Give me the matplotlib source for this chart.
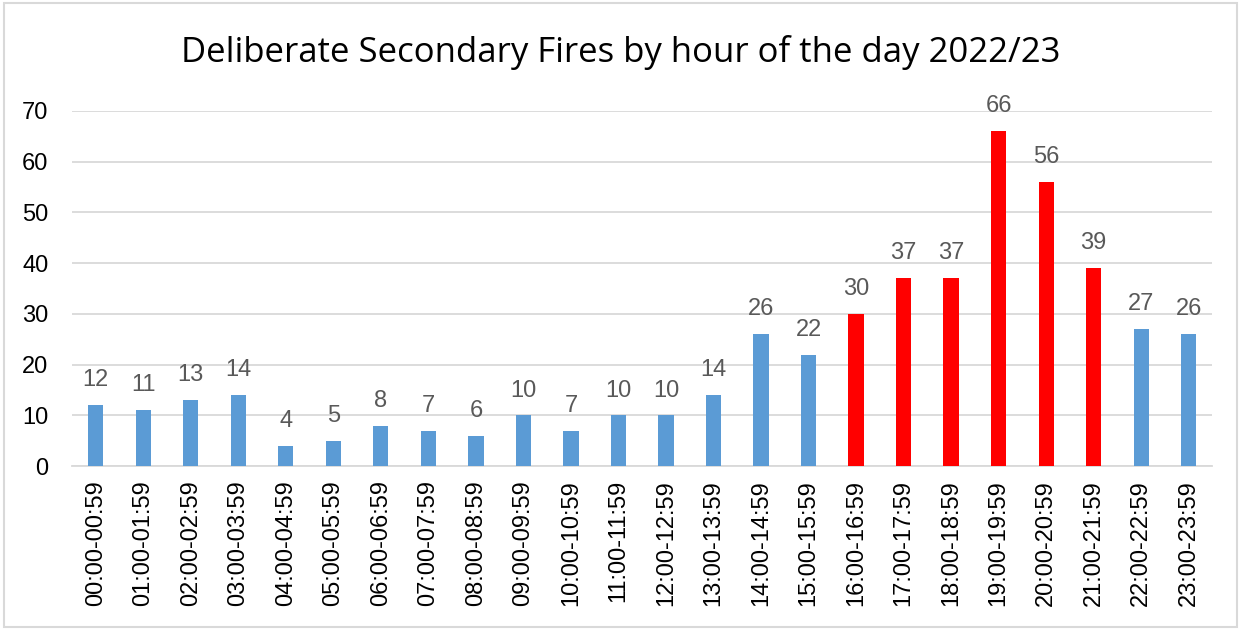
import matplotlib.pyplot as plt
from matplotlib.patches import Rectangle

# hourly bands and counts
hours = ['%02d:00-%02d:59' % (h, h) for h in range(24)]
fires = [12, 11, 13, 14, 4, 5, 8, 7, 6, 10, 7, 10, 10, 14, 26, 22,
         30, 37, 37, 66, 56, 39, 27, 26]
# peak hours highlighted in red
peak = list(range(16, 22))

colors = ['#FF0000' if i in peak else '#5B9BD5' for i in range(len(hours))]

fig = plt.figure(figsize=(12.41, 6.30), dpi=100)
ax = fig.add_axes([0.058, 0.260, 0.919, 0.564])

x = range(len(hours))
bars = ax.bar(x, fires, width=0.32, color=colors, zorder=3)

for xi, v in zip(x, fires):
    ax.annotate(str(v), (xi, v), xytext=(0, 10), textcoords='offset points',
                ha='center', va='bottom', fontsize=17, color='#595959',
                family='Liberation Sans')

ax.set_xlim(-0.5, len(hours) - 0.5)
ax.set_ylim(0, 70)
ax.set_yticks(range(0, 71, 10))
ax.set_xticks(list(x))
ax.set_xticklabels(hours, rotation=90, family='Liberation Sans', fontsize=17)
for lab in ax.get_yticklabels():
    lab.set_family('Liberation Sans')
    lab.set_fontsize(17)
ax.tick_params(axis='y', length=0, pad=17, colors='#000000')
ax.tick_params(axis='x', length=0, pad=10, colors='#000000')
ax.grid(axis='y', color='#D9D9D9', linewidth=1.3, zorder=0)
for s in ['top', 'right', 'left']:
    ax.spines[s].set_visible(False)
ax.spines['bottom'].set_color('#D9D9D9')
ax.spines['bottom'].set_linewidth(1.3)

fig.text(0.5, 0.917, 'Deliberate Secondary Fires by hour of the day 2022/23',
         ha='center', va='center', fontsize=25, family='Open Sans', color='#000000')

# light frame around the chart
fig.patches.append(Rectangle((0.003, 0.004), 0.994, 0.992, transform=fig.transFigure,
                             fill=False, edgecolor='#D9D9D9', linewidth=1.5))

plt.savefig('out.png', dpi=100)
